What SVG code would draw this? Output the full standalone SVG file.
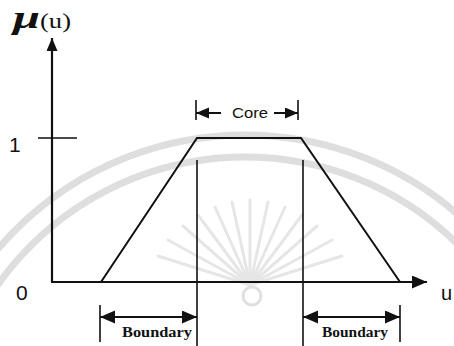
<svg xmlns="http://www.w3.org/2000/svg" width="454" height="346" viewBox="0 0 454 346">
  <style>
    .ln { stroke: #111; fill: none; stroke-linecap: butt; }
    .ax { stroke-width: 2.2; }
    .tr { stroke-width: 2; stroke-linejoin: miter; }
    .vt { stroke-width: 1.6; }
    .dm { stroke-width: 2; }
    .tk { stroke-width: 1.6; }
    .wm { fill: none; stroke: #dedede; }
    .sans { font-family: "Liberation Sans", Arial, sans-serif; fill: #111; }
    .serif { font-family: "Liberation Serif", "Times New Roman", serif; fill: #111; }
  </style>
  <defs>
    <marker id="ah" markerUnits="userSpaceOnUse" markerWidth="16" markerHeight="14" refX="15" refY="6.5" orient="auto-start-reverse">
      <path d="M0,0 L15,6.5 L0,13 z" fill="#111"/>
    </marker>
    <marker id="ahs" markerUnits="userSpaceOnUse" markerWidth="14" markerHeight="12" refX="13" refY="5.5" orient="auto-start-reverse">
      <path d="M0,0 L13,5.5 L0,11 z" fill="#111"/>
    </marker>
  </defs>
  <rect width="454" height="346" fill="#fff"/>

  <g id="watermark">
    <circle class="wm" cx="245" cy="460" r="325" stroke-width="7"/>
    <circle class="wm" cx="245" cy="460" r="303" stroke-width="7"/>
    <g stroke="#e6e6e6" stroke-width="3" stroke-linecap="round">
      <line x1="250" y1="285" x2="250" y2="200"/>
      <line x1="250" y1="285" x2="232" y2="202"/>
      <line x1="250" y1="285" x2="268" y2="202"/>
      <line x1="250" y1="285" x2="215" y2="207"/>
      <line x1="250" y1="285" x2="285" y2="207"/>
      <line x1="250" y1="285" x2="198" y2="215"/>
      <line x1="250" y1="285" x2="302" y2="215"/>
      <line x1="250" y1="285" x2="183" y2="226"/>
      <line x1="250" y1="285" x2="317" y2="226"/>
      <line x1="250" y1="285" x2="168" y2="240"/>
      <line x1="250" y1="285" x2="332" y2="240"/>
      <line x1="250" y1="285" x2="158" y2="256"/>
      <line x1="250" y1="285" x2="342" y2="256"/>
    </g>
    <circle cx="252" cy="296" r="9" fill="#fff" stroke="#e0e0e0" stroke-width="3"/>
  </g>

  <g id="connectors">
    <!-- axes -->
    <line class="ln ax" x1="52" y1="282" x2="52" y2="38" marker-end="url(#ahs)"/>
    <line class="ln ax" x1="51" y1="282" x2="427" y2="282" marker-end="url(#ah)"/>
    <line class="ln tk" x1="38" y1="138" x2="77" y2="138"/>
    <!-- trapezoid -->
    <polyline class="ln tr" points="101,282 197,138 301,138 400,282"/>
    <!-- verticals -->
    <line class="ln vt" x1="197" y1="160" x2="197" y2="346"/>
    <line class="ln vt" x1="303" y1="160" x2="303" y2="346"/>
    <!-- core dimension -->
    <line class="ln tk" x1="196" y1="100" x2="196" y2="120"/>
    <line class="ln tk" x1="298" y1="100" x2="298" y2="120"/>
    <line class="ln dm" x1="221" y1="113" x2="196" y2="113" marker-end="url(#ahs)"/>
    <line class="ln dm" x1="274" y1="113" x2="298" y2="113" marker-end="url(#ahs)"/>
    <!-- boundary dimensions -->
    <line class="ln tk" x1="100" y1="305" x2="100" y2="342"/>
    <line class="ln tk" x1="400" y1="305" x2="400" y2="342"/>
    <line class="ln dm" x1="100" y1="317" x2="197" y2="317" marker-start="url(#ah)" marker-end="url(#ah)"/>
    <line class="ln dm" x1="303" y1="317" x2="400" y2="317" marker-start="url(#ah)" marker-end="url(#ah)"/>
  </g>

  <g id="ylabel">
    <text class="serif" x="13" y="28" font-size="31" font-style="italic" font-weight="bold" textLength="27" lengthAdjust="spacingAndGlyphs">μ</text>
    <text class="serif" x="40" y="28" font-size="20" textLength="31" lengthAdjust="spacingAndGlyphs">(u)</text>
  </g>
  <g id="tick-one">
    <text class="sans" x="9" y="152" font-size="21">1</text>
  </g>
  <g id="origin">
    <text class="sans" x="16" y="300" font-size="21">0</text>
  </g>
  <g id="xlabel">
    <text class="sans" x="441" y="300" font-size="20">u</text>
  </g>
  <g id="core">
    <text class="sans" x="232" y="118" font-size="14" textLength="36" lengthAdjust="spacingAndGlyphs">Core</text>
  </g>
  <g id="boundary-left">
    <text class="serif" x="122" y="337" font-size="15" font-weight="bold" textLength="70" lengthAdjust="spacingAndGlyphs">Boundary</text>
  </g>
  <g id="boundary-right">
    <text class="serif" x="322" y="337" font-size="15" font-weight="bold" textLength="66" lengthAdjust="spacingAndGlyphs">Boundary</text>
  </g>
</svg>
